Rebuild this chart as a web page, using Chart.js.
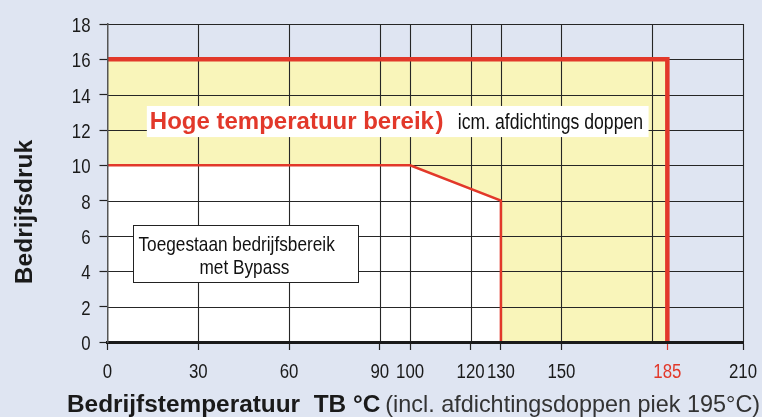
<!DOCTYPE html>
<html>
<head>
<meta charset="utf-8">
<script src="https://cdn.jsdelivr.net/npm/chart.js@4"></script>
<style>
  html, body { margin: 0; padding: 0; background: #dfe5f2; }
  #wrap { width: 762px; height: 417px; }
</style>
</head>
<body>
<div id="wrap"><canvas id="chart" width="762" height="417"></canvas></div>
<script>
// bedrijfsbereik: hoge temperatuur (geel) en toegestaan met bypass (wit)
const highTemp = [0, 185, 185];
const highPress = [16, 16, 0];
const bypassTemp = [0, 100, 130, 130];
const bypassPress = [10, 10, 8, 0];

const xTickValues = [0, 30, 60, 90, 100, 120, 130, 150, 180, 185, 210];
const xTickLabels = ['0', '30', '60', '90', '100', '120', '130', '150', '', '185', '210'];
const yTickValues = [0, 2, 4, 6, 8, 10, 12, 14, 16, 18];

const RED = '#e2382a';
const YELLOW = '#f9f5ba';
const SANS = "'Liberation Sans', Arial, Helvetica, sans-serif";
const NARROW_X = 0.82; // no Arial Narrow here, squeeze Liberation Sans instead

const pts = (xs, ys) => xs.map((x, i) => ({ x: x, y: ys[i] }));

function narrowText(ctx, text, x, y, size, align) {
    ctx.save();
    ctx.font = size + 'px ' + SANS;
    ctx.textAlign = align || 'left';
    ctx.textBaseline = 'alphabetic';
    ctx.translate(x, y);
    ctx.scale(NARROW_X, 1);
    ctx.fillText(text, 0, 0);
    ctx.restore();
}

// grid over the fills, under the red lines; labels + annotations on top
const gridPlugin = {
    id: 'midGrid',
    afterDatasetDraw(chart, args) {
        if (args.index !== 2) return;
        const { ctx, chartArea: a, scales: { x, y } } = chart;
        ctx.save();
        ctx.strokeStyle = '#262626';
        ctx.lineWidth = 1.1;
        ctx.beginPath();
        xTickValues.forEach(v => {
            if (v === 0 || v === 185) return;
            const px = Math.round(x.getPixelForValue(v)) + 0.5;
            ctx.moveTo(px, a.top); ctx.lineTo(px, a.bottom);
        });
        yTickValues.forEach(v => {
            if (v === 0) return;
            const py = Math.round(y.getPixelForValue(v)) + 0.5;
            ctx.moveTo(a.left, py); ctx.lineTo(a.right, py);
        });
        ctx.stroke();
        ctx.restore();
    },
    afterDraw(chart) {
        const { ctx, chartArea: a, scales: { x, y } } = chart;
        ctx.save();

        // tick labels
        xTickValues.forEach((v, i) => {
            ctx.fillStyle = v === 185 ? RED : '#1a1a1a';
            narrowText(ctx, xTickLabels[i], x.getPixelForValue(v), a.bottom + 36, 20.5, 'center');
        });
        ctx.fillStyle = '#1a1a1a';
        yTickValues.forEach(v => {
            narrowText(ctx, String(v), a.left - 17, y.getPixelForValue(v) + 8, 20.5, 'right');
        });

        // Hoge temperatuur box
        let l = x.getPixelForValue(13), r = x.getPixelForValue(178.8);
        let t = y.getPixelForValue(13.36), b = y.getPixelForValue(11.6);
        ctx.fillStyle = '#ffffff';
        ctx.fillRect(l, t, r - l, b - t);
        ctx.textBaseline = 'alphabetic';
        ctx.textAlign = 'left';
        ctx.fillStyle = RED;
        ctx.font = 'bold 24px ' + SANS;
        ctx.fillText('Hoge temperatuur bereik', l + 3, b - 8);
        const hw = ctx.measureText('Hoge temperatuur bereik').width;
        ctx.fillText(')', l + 3 + hw + 1.5, b - 8);
        ctx.fillStyle = '#111';
        narrowText(ctx, 'icm. afdichtings doppen', l + 311, b - 8, 21.5);

        // Toegestaan box
        l = Math.round(x.getPixelForValue(8.3)) + 0.5; r = Math.round(x.getPixelForValue(82.7)) + 0.5;
        t = Math.round(y.getPixelForValue(6.62)) + 0.5; b = Math.round(y.getPixelForValue(3.4)) + 0.5;
        ctx.fillStyle = '#ffffff';
        ctx.fillRect(l, t, r - l, b - t);
        ctx.strokeStyle = '#222';
        ctx.lineWidth = 1;
        ctx.strokeRect(l, t, r - l, b - t);
        ctx.fillStyle = '#111';
        narrowText(ctx, 'Toegestaan bedrijfsbereik', l + 5, t + 25, 21);
        narrowText(ctx, 'met Bypass', l + 66, t + 48, 21);

        // as-titels
        ctx.textAlign = 'left';
        ctx.fillStyle = '#1a1a1a';
        ctx.font = 'bold 24.4px ' + SANS;
        ctx.fillText('Bedrijfstemperatuur  TB \u00b0C', 67, 411.5);
        const w = ctx.measureText('Bedrijfstemperatuur  TB \u00b0C').width;
        ctx.fillStyle = '#333';
        ctx.font = '23.4px ' + SANS;
        ctx.fillText('(incl. afdichtingsdoppen piek 195\u00b0C)', 67 + w + 5, 411.5);

        ctx.translate(32, 212);
        ctx.rotate(-Math.PI / 2);
        ctx.textAlign = 'center';
        ctx.fillStyle = '#1a1a1a';
        ctx.font = 'bold 24.5px ' + SANS;
        ctx.fillText('Bedrijfsdruk', 0, 0);
        ctx.restore();
    }
};

new Chart(document.getElementById('chart'), {
    type: 'line',
    data: {
        datasets: [
            { data: pts(highTemp, highPress), borderColor: RED, borderWidth: 4.5, fill: false,
              pointRadius: 0, borderJoinStyle: 'miter', order: 1 },
            { data: pts(bypassTemp, bypassPress), borderColor: RED, borderWidth: 2.5, fill: false,
              pointRadius: 0, borderJoinStyle: 'miter', order: 2 },
            { data: pts(bypassTemp, bypassPress), borderColor: 'transparent', borderWidth: 0,
              backgroundColor: '#ffffff', fill: 'origin', pointRadius: 0, order: 3 },
            { data: pts(highTemp, highPress), borderColor: 'transparent', borderWidth: 0,
              backgroundColor: YELLOW, fill: 'origin', pointRadius: 0, order: 4 }
        ]
    },
    options: {
        responsive: false,
        animation: false,
        layout: { padding: { top: 24, right: 19, left: 0, bottom: 0 } },
        plugins: { legend: { display: false }, tooltip: { enabled: false } },
        scales: {
            x: {
                type: 'linear', min: 0, max: 210,
                afterBuildTicks: s => { s.ticks = xTickValues.map(v => ({ value: v })); },
                afterFit: s => { s.height = 75; },
                grid: {
                    drawOnChartArea: false, tickLength: 8, tickWidth: 1.2,
                    tickColor: c => c.tick && c.tick.value === 185 ? RED : (c.tick && c.tick.value === 180 ? 'transparent' : '#222')
                },
                border: { display: true, color: '#1a1a1a', width: 3, z: 1 },
                ticks: { display: false }
            },
            y: {
                min: 0, max: 18,
                afterBuildTicks: s => { s.ticks = yTickValues.map(v => ({ value: v })); },
                afterFit: s => { s.width = 107.5; },
                grid: { drawOnChartArea: false, tickLength: 8, tickWidth: 1.2, tickColor: '#222' },
                border: { display: true, color: '#555', width: 1.5, z: 1 },
                ticks: { display: false }
            }
        }
    },
    plugins: [gridPlugin]
});
</script>
</body>
</html>
